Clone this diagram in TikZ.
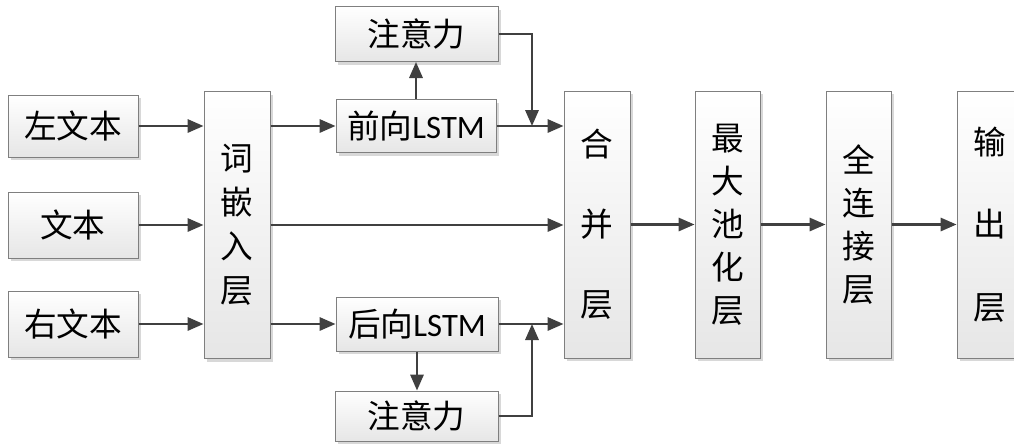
\documentclass[tikz,border=0pt]{standalone}
\usepackage{fontspec}
\newfontfamily\cjk{Noto Sans CJK SC}
\newfontfamily\lat{Carlito}
\usetikzlibrary{arrows.meta,shadows,calc}
\definecolor{linec}{HTML}{404040}
\definecolor{boxc}{HTML}{7F7F7F}
\definecolor{shadec}{HTML}{E6E6E6}
\definecolor{shadowc}{HTML}{D8D8D8}
\begin{document}
\begin{tikzpicture}[x=0.75pt,y=-0.75pt,
  blk/.style={draw=boxc, line width=0.75pt, top color=white, bottom color=shadec,
    drop shadow={shadow xshift=2.25pt, shadow yshift=-2.25pt, fill=shadowc, opacity=1},
    inner sep=0pt, align=center, font=\cjk\fontsize{24.5}{33}\selectfont},
  tall/.style={blk, minimum width=49.5pt, minimum height=200.25pt},
  arr/.style={draw=linec, line width=1.7pt, -{Triangle[length=12pt,width=10pt]}},
  ln/.style={draw=linec, line width=1.7pt}]
\useasboundingbox (0,0) rectangle (1014,443);
\clip (0,0) rectangle (1014,443);
% left inputs
\node[blk, minimum width=97.5pt, minimum height=46.5pt] (ltext) at (73,126) {左文本};
\node[blk, minimum width=97.5pt, minimum height=49.5pt] (ctext) at (73,225) {文本};
\node[blk, minimum width=97.5pt, minimum height=49.5pt] (rtext) at (73,324) {右文本};
% embedding
\node[tall] (embed) at (237,225) {词\\嵌\\入\\层};
% LSTM and attention
\node[blk, minimum width=122.25pt, minimum height=41.25pt] (att1) at (416.5,34) {注意力};
\node[blk, minimum width=120pt, minimum height=39.75pt] (fwd) at (416,126) {前向{\lat LSTM}};
\node[blk, minimum width=121.5pt, minimum height=40.5pt] (bwd) at (417,324) {后向{\lat LSTM}};
\node[blk, minimum width=122.25pt, minimum height=37.5pt] (att2) at (416.5,416) {注意力};
% right layers
\node[tall, font=\cjk\fontsize{24.5}{60}\selectfont] (merge) at (597,224.5) {合\\并\\层};
\node[tall, minimum width=48.75pt, font=\cjk\fontsize{24.5}{32.25}\selectfont] (pool) at (727.5,224.5) {最\\大\\池\\化\\层};
\node[tall, minimum width=48.75pt, font=\cjk\fontsize{24.5}{32.25}\selectfont] (fc) at (858.5,224.5) {全\\连\\接\\层};
\node[tall, minimum width=48.75pt, font=\cjk\fontsize{24.5}{62}\selectfont] (out) at (989.5,224.5) {输\\出\\层};
% junction points
\coordinate (j1) at (532,126);
\coordinate (j2) at (532,324);
% arrows
\draw[arr] (ltext.east) -- (ltext.east -| embed.west);
\draw[arr] (ctext.east) -- (ctext.east -| embed.west);
\draw[arr] (rtext.east) -- (rtext.east -| embed.west);
\draw[arr] (fwd.west -| embed.east) -- (fwd.west);
\draw[arr] (bwd.west -| embed.east) -- (bwd.west);
\draw[arr] (ctext.east -| embed.east) -- (ctext.east -| merge.west);
\draw[arr] (fwd.east) -- (fwd.east -| merge.west);
\draw[arr] (bwd.east) -- (bwd.east -| merge.west);
\draw[arr] (fwd.north) -- (fwd.north |- att1.south);
\draw[arr] (bwd.south) -- (bwd.south |- att2.north);
\draw[arr] (att1.east) -| (j1);
\draw[arr] (att2.east) -| (j2);
\draw[arr] (merge.east) -- (pool.west);
\draw[arr] (pool.east) -- (fc.west);
\draw[arr] (fc.east) -- (out.west);
\end{tikzpicture}
\end{document}
